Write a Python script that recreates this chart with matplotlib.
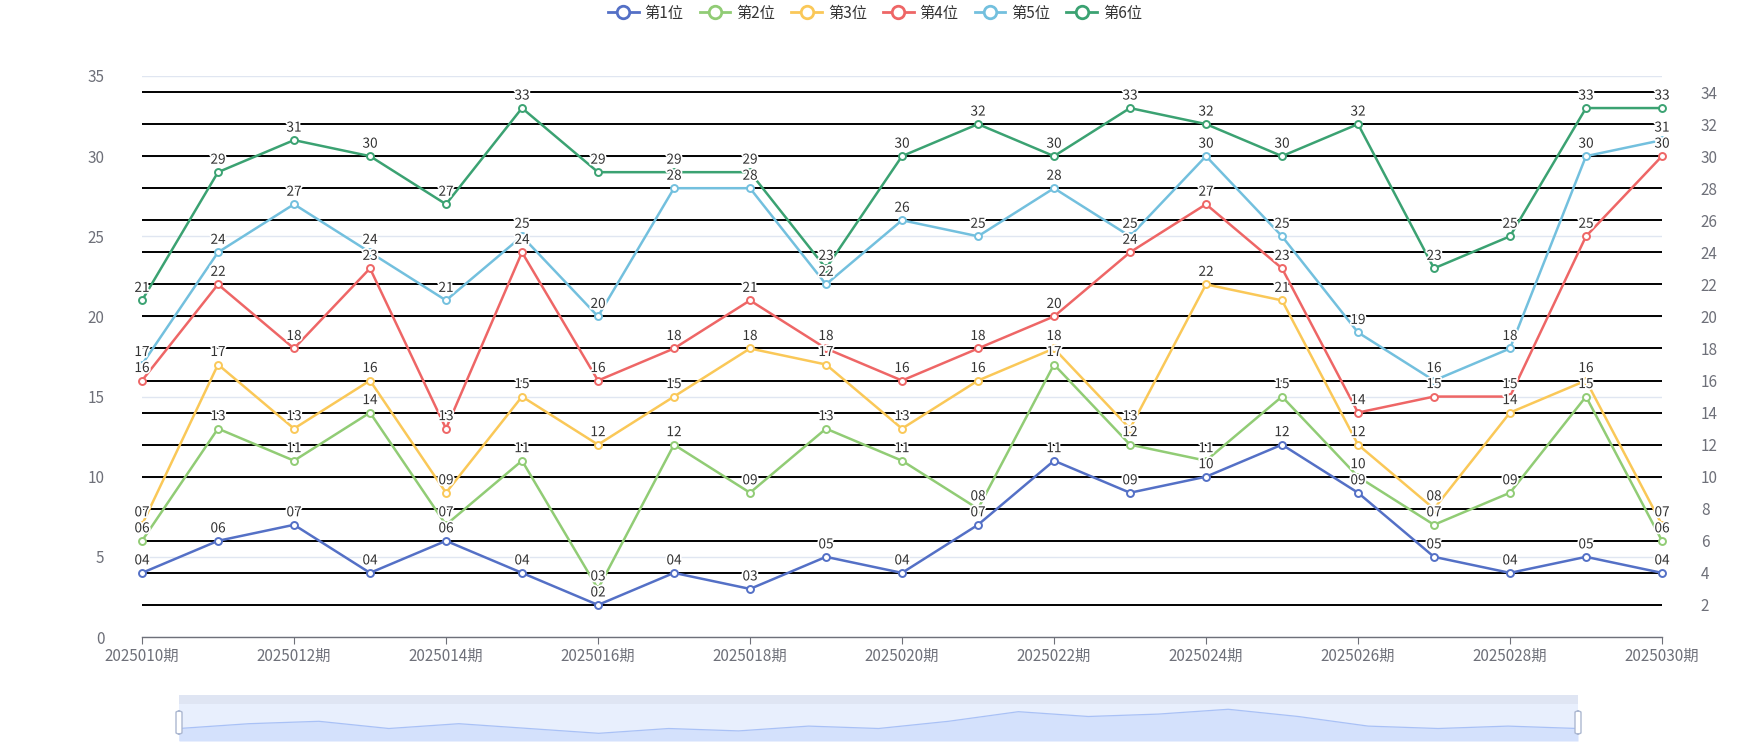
import numpy as np
import matplotlib
matplotlib.use("Agg")
import matplotlib.pyplot as plt
from matplotlib.lines import Line2D
from matplotlib.patches import Rectangle, FancyBboxPatch
import matplotlib.patheffects as pe

plt.rcParams['font.family'] = ['Noto Sans CJK SC', 'DejaVu Sans']

# 数据
periods = [f"2025{n:03d}期" for n in range(10, 31)]
names = ['第1位', '第2位', '第3位', '第4位', '第5位', '第6位']
colors = ['#5470c6', '#91cc75', '#fac858', '#ee6666', '#73c0de', '#3ba272']
s1 = [4, 6, 7, 4, 6, 4, 2, 4, 3, 5, 4, 7, 11, 9, 10, 12, 9, 5, 4, 5, 4]
s2 = [6, 13, 11, 14, 7, 11, 3, 12, 9, 13, 11, 8, 17, 12, 11, 15, 10, 7, 9, 15, 6]
s3 = [7, 17, 13, 16, 9, 15, 12, 15, 18, 17, 13, 16, 18, 13, 22, 21, 12, 8, 14, 16, 7]
s4 = [16, 22, 18, 23, 13, 24, 16, 18, 21, 18, 16, 18, 20, 24, 27, 23, 14, 15, 15, 25, 30]
s5 = [17, 24, 27, 24, 21, 25, 20, 28, 28, 22, 26, 25, 28, 25, 30, 25, 19, 16, 18, 30, 31]
s6 = [21, 29, 31, 30, 27, 33, 29, 29, 29, 23, 30, 32, 30, 33, 32, 30, 32, 23, 25, 33, 33]
series = [s1, s2, s3, s4, s5, s6]
left_ticks = list(range(0, 36, 5))
right_ticks = list(range(2, 35, 2))

W, H = 1750, 750
fig = plt.figure(figsize=(W / 100, H / 100), dpi=100)
x = np.arange(len(periods))

axis_col = '#6E7079'
L, R, T, B = 142, 1662, 76, 637
ax = fig.add_axes([L / W, 1 - B / H, (R - L) / W, (B - T) / H])
ax.set_xlim(0, len(periods) - 1)
ax.set_ylim(0, 35)
ax.set_yticks(left_ticks)
ax.grid(axis='y', color='#E0E6F1', lw=1)
ax.set_axisbelow(True)
for s in ['left', 'right', 'top']:
    ax.spines[s].set_visible(False)
ax.spines['bottom'].set_color(axis_col)
ax.spines['bottom'].set_linewidth(1)
ax.set_xticks(x[::2])
ax.set_xticklabels(periods[::2])
ax.tick_params(axis='x', colors=axis_col, length=5, pad=3, labelsize=11)
ax.tick_params(axis='y', length=0, pad=27, labelcolor=axis_col, labelsize=11)

ax2 = ax.twinx()
ax2.set_ylim(0, 35)
ax2.set_yticks(right_ticks)
ax2.grid(axis='y', color='black', lw=1.4)
ax2.set_axisbelow(True)
for s in ax2.spines.values():
    s.set_visible(False)
ax2.tick_params(axis='y', length=0, pad=28, labelcolor=axis_col, labelsize=11)

halo = [pe.withStroke(linewidth=2.5, foreground='white')]
for vals, c in zip(series, colors):
    ax2.plot(x, vals, color=c, lw=1.8, marker='o', ms=5, mfc='white', mec=c, mew=1.4,
             zorder=3, clip_on=False)
    for xi, v in zip(x, vals):
        ax2.annotate(f"{v:02d}", (xi, v), xytext=(0, 9), textcoords='offset points',
                     ha='center', va='center', fontsize=9.8, color='#333333',
                     path_effects=halo, zorder=5, annotation_clip=False)

# 图例
handles = [Line2D([], [], color=c, lw=2, marker='o', ms=9, mfc='white', mec=c, mew=2)
           for c in colors]
fig.legend(handles, names, loc='upper center', bbox_to_anchor=(0.5, 1.012), ncol=6,
           frameon=False, fontsize=11, handlelength=2.0, handletextpad=0.4,
           columnspacing=1.05, labelcolor='#333333')

# 缩放条
SL, SR, ST, SM, SB = 179, 1578, 695, 704, 741
fig.patches.append(Rectangle((SL / W, 1 - SM / H), (SR - SL) / W, (SM - ST) / H,
                             transform=fig.transFigure, facecolor='#dfe5f3', edgecolor='none'))
ax3 = fig.add_axes([SL / W, 1 - SB / H, (SR - SL) / W, (SB - SM) / H])
ax3.set_facecolor('#e8effd')
ax3.set_xlim(0, len(periods) - 1)
ax3.set_ylim(-1.2, 14.2)
ax3.fill_between(x, s1, -1.2, color='#d4e1fc', lw=0)
ax3.plot(x, s1, color='#a9c1f6', lw=0.9)
ax3.set_xticks([])
ax3.set_yticks([])
for s in ax3.spines.values():
    s.set_visible(False)
for hx in [SL, SR]:
    fig.patches.append(FancyBboxPatch(((hx - 3) / W, 1 - 734 / H), 6 / W, 23 / H,
                                      boxstyle='round,pad=0,rounding_size=0.002',
                                      transform=fig.transFigure, facecolor='white',
                                      edgecolor='#acb8d1', lw=1, zorder=10))

fig.savefig('out.png', dpi=100, facecolor='white')
